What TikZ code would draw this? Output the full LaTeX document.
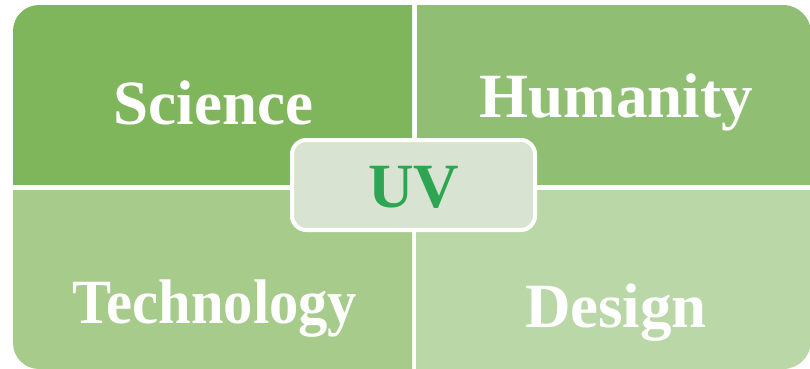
\documentclass[tikz,border=0pt]{standalone}
\usepackage{fontspec}
\setmainfont{Liberation Serif}
\usetikzlibrary{positioning}
\definecolor{scigreen}{HTML}{7FB55B}
\definecolor{humgreen}{HTML}{90BF74}
\definecolor{techgreen}{HTML}{A6CB8B}
\definecolor{desgreen}{HTML}{B9D7A7}
\definecolor{uvfill}{HTML}{D8E4D1}
\definecolor{uvtext}{HTML}{2EA552}

\begin{document}
\begin{tikzpicture}[x=1pt,y=-1pt,line join=round,
		panellabel/.style={text=white,font=\fontsize{63}{63}\selectfont\bfseries,anchor=base,inner sep=0pt},
		uvlabel/.style={text=uvtext,font=\fontsize{63}{63}\selectfont\bfseries,anchor=base,inner sep=0pt}]
			\useasboundingbox (0,0) rectangle (810,368);
			% four quarters, one rounded outer corner each
			\begin{scope}
				\clip (13,5) rectangle (412,184);
				\fill [scigreen,rounded corners=26] (13,5) rectangle (460,230);
			\end{scope}
			\begin{scope}
				\clip (417,5) rectangle (811,184);
				\fill [humgreen,rounded corners=28] (370,5) rectangle (811,230);
			\end{scope}
			\begin{scope}
				\clip (13,190) rectangle (412,369);
				\fill [techgreen,rounded corners=26] (13,140) rectangle (460,369);
			\end{scope}
			\begin{scope}
				\clip (416,190) rectangle (811,369);
				\fill [desgreen,rounded corners=28] (370,140) rectangle (811,369);
			\end{scope}
			\node [panellabel] (science) at (213.5,124) {Science};
			\node [panellabel] (humanity) at (616,117) {Humanity};
			\node [panellabel] (technology) at (215,323) {\scalebox{0.93}[1]{Technology}};
			\node [panellabel] (design) at (616,327) {Design};
			% centre box
			\draw [white,line width=4pt,fill=uvfill,rounded corners=14] (292,140) rectangle (535,230);
			\node [uvlabel] (uv) at (414,207) {UV};
		\end{tikzpicture}
\end{document}
